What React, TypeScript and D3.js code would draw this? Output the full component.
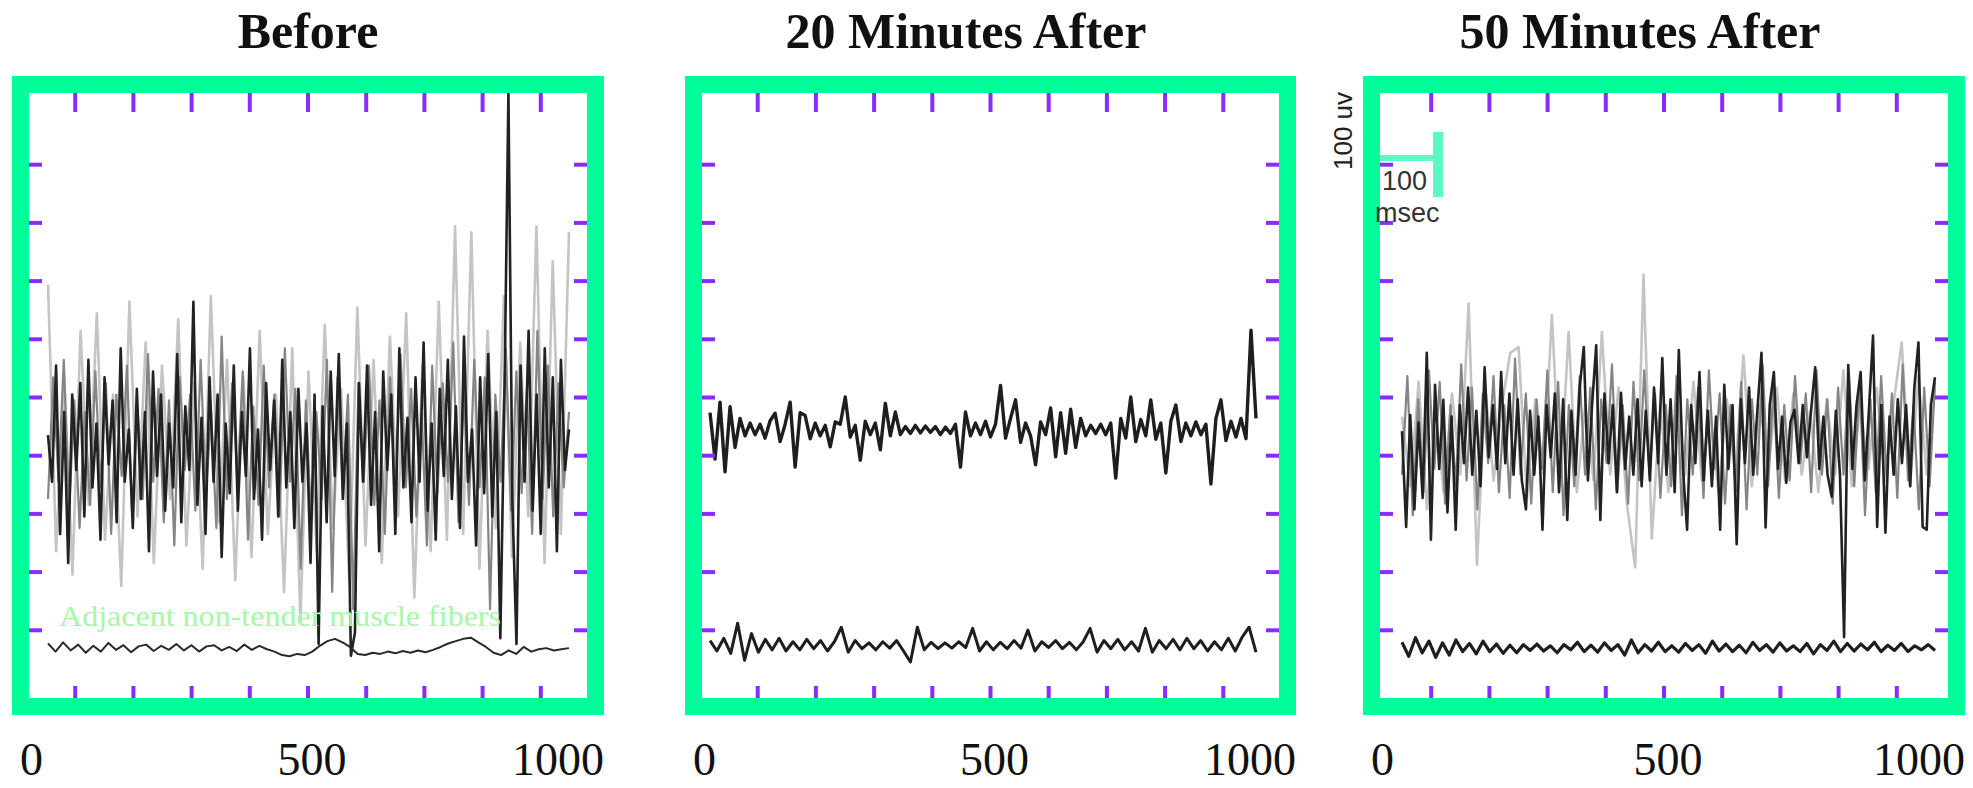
import { useEffect } from 'react';
import * as d3 from 'd3';

const W = 1973;
const H = 788;

const titles = ['Before', '20 Minutes After', '50 Minutes After'];
const xTickLabels = [0, 500, 1000];

// EMG traces, microvolts relative to each trace's baseline, evenly sampled over 0..1000 msec
const beforeDark = [
  20, -60, 140, -150, 60, -200, 90, -40, 110, -120,
  150, -70, 40, -160, 120, -30, 80, -130, 170, -60,
  30, -140, 100, -90, 60, -180, 130, -50, 90, -110,
  40, -70, 160, -130, 70, -40, 250, -100, 50, -150,
  120, -60, 90, -190, 40, -80, 140, -110, 60, -50,
  170, -90, 30, -160, 110, -40, 80, -120, 150, -70,
  60, -140, 100, -60, 40, -200, 90, -340, 70, -130,
  130, -50, 160, -90, 40, -360, -320, 110, -60, 140,
  -100, 60, -180, 130, -40, 90, -150, 170, -70, 50,
  -130, 120, -60, 180, -110, 40, -160, 100, -50, 150,
  -90, 70, -140, 190, -60, 30, -170, 120, -80, 160,
  -120, 60, -330, 80, 610, -100, -340, 140, -60, 200,
  -110, 90, -150, 170, -70, 120, -180, 150, -40, 30,
];
const beforeMid = [
  -90, 120, -60, 150, -110, 80, -140, 60, -100, 130,
  -70, 110, -150, 90, -50, 140, -120, 70, -90, 160,
  -60, 100, -130, 80, -170, 120, -40, 90, -110, 150,
  -80, 60, -140, 190, -90, 110, -60, 130, -160, 70,
  -100, 140, -70, 90, -120, 170, -60, 100, -210, 80,
  -130, 60, -90, 150, -250, 120, -70, 90, -280, 110,
  -60, 140, -100, 80, -150, 120, -90, 160, -70, 100,
  -120, 60, -170, 140, -80, 110, -60, 180, -130, 90,
  -100, 150, -70, 120, -280, 90, -60, 170, -110, 130,
  -80, 100, -150, 200, -90, 140, -120, 110, -70, 60,
];
const beforeGray = [
  280, -180, 120, -220, 200, -100, 230, -160, 90, -240,
  250, -120, 180, -200, 140, -90, 220, -170, 110, -210,
  260, -130, 150, -230, 120, -190, 200, -150, 90, -250,
  170, -300, 130, -180, 210, -140, 100, -230, 240, -170,
  150, -200, 190, -120, 230, -260, 140, -180, 250, -160,
  380, -150, 370, -210, 200, -140, 260, -190, 180, -120,
  380, -200, 320, -150, 370,
];
const beforeAdjacent = [
  8, -6, 10, -4, 6, -8, 4, -6, 9, -3,
  5, -7, 3, 6, -5, 4, -3, 7, -4, 5,
  -6, 3, 5, -4, 2, -5, 6, -3, 4, -2,
  -6, -12, -14, -10, -12, -6, 4, 12, 16, 10,
  2, -10, -12, -8, -10, -6, -9, -5, -8, -4,
  -7, -3, 2, 8, 12, 16, 18, 10, 2, -8,
  -12, -4, -10, 2, -6, -2, 0, -4, -2, 0,
];
const after20Top = [
  30, -50, 48, -72, 40, -30, 20, -10, 12, -8,
  10, -14, 16, 29, -20, 10, 48, -64, 30, 25,
  -15, 12, -10, 8, -29, 14, 10, 57, -12, 8,
  -52, 15, -8, 12, -34, 46, -10, 31, -8, 6,
  -6, 8, -5, 7, -4, 6, -8, 5, -6, 10,
  -64, 31, -10, 12, -8, 15, -12, 10, 77, -14,
  20, 52, -21, 12, -10, -60, 14, -8, 38, -46,
  30, -40, 36, -30, 20, -10, 8, -6, 10, -8,
  12, -83, 20, -14, 57, -20, 18, -10, 52, -16,
  12, -74, 15, 43, -20, 12, -10, 14, -8, 10,
  -93, 20, 52, -18, 15, -12, 20, -15, 172, 20,
];
const after20Bottom = [
  8, -10, 12, -14, 38, -26, 20, -12, 10, -8,
  12, -10, 6, -8, 10, -6, 8, -10, 6, 31,
  -12, 8, -6, 4, -8, 6, -5, 8, -10, -29,
  31, -8, 5, -6, 4, -5, 6, -4, 29, -10,
  6, -8, 5, -6, 8, -5, 26, -10, 6, -4,
  8, -6, 5, -8, 6, 29, -12, 8, -6, 10,
  -8, 6, -10, 29, -12, 8, -6, 10, -8, 12,
  -6, 8, -10, 6, -8, 12, -10, 14, 31, -12,
];
const after50Dark = [
  15, -150, 43, -120, 30, -100, 150, -172, 95, -50,
  69, -125, 40, -155, 60, -40, 90, -60, 50, -80,
  125, -30, 60, -50, 117, -40, 80, -60, 70, -70,
  -120, 50, -60, 40, -155, 60, -30, 80, -90, 70,
  -138, 50, -60, 90, 160, -70, 60, 163, -138, 80,
  -40, 60, -90, 81, -50, 40, -60, 70, -80, 50,
  -70, 90, -40, 141, -60, 70, -90, 155, -50, -155,
  60, -40, 117, -70, 50, -80, 40, -155, 95, -50,
  60, -180, 70, -40, 90, -60, 50, 150, -151, 60,
  117, -50, 40, -74, 30, 52, -40, 60, -30, 50,
  125, -50, 40, -60, -98, 50, -60, -340, 129, -50,
  60, 117, -70, 50, 180, -150, 60, -160, 40, -60,
  70, -40, 60, -80, 90, 168, -150, -155, 60, 108,
];
const after50Mid = [
  -60, 110, -130, 70, -90, 120, -50, 100, -110, 60,
  -80, 130, -70, 90, -120, 80, -40, 110, -90, 60,
  -100, 140, -60, 80, -110, 70, -50, 120, -90, 100,
  -130, 60, -80, 110, -60, 90, -120, 70, -40, 130,
  -90, 60, -110, 100, -70, 120, -60, 80, -100, 60,
  -80, 110, -130, 70, -60, 90, -100, 120, -50, 80,
  -110, 60, -90, 100, -120, 70, -60, 130, -80, 90,
  -100, 60, -70, 110, -40, 80, -90, 120, -60, 70,
  -110, 90, -60, 120, -80, 100, -130, 70, -90, 110,
  -60, 80, -100, 130, -70, 60, -120, 90, -80, 100,
];
const after50Gray = [
  40, -80, 100, -120, 60, -90, 80, -60, 235, -215,
  90, -70, 60, 150, 160, -100, 70, -60, 215, -80,
  186, -90, 60, -70, 186, -60, 90, -110, -220, 285,
  -170, 60, -90, 80, -60, 100, -70, 50, -90, 70,
  -60, 146, -80, 60, -50, 90, -70, 80, -60, 50,
  -90, 70, -60, 120, -80, 60, -50, 90, -70, 60,
  168, -80, 110, -60, 90,
];
const after50Bottom = [
  10, -14, 18, -8, 12, -16, 9, -12, 14, -6,
  8, -10, 12, -6, 7, -9, 5, -8, 6, -4,
  7, -5, 4, -8, 6, -3, 10, -6, 5, -7,
  9, -4, 6, -12, 14, -8, 6, -5, 10, -6,
  4, -7, 8, -4, 6, -9, 12, -5, 7, -6,
  5, -8, 10, -4, 6, -7, 9, -5, 4, -6,
  8, -10, 6, -4, 12, -6, 8, -5, 7, -3,
  10, -6, 5, -4, 8, -6, 4, -3, 6, -4,
];

const GREEN = '#00fd9a';
const TICK = '#8a2cff';
const FT = 17; // frame thickness
const TOP = 76;
const BOTTOM = 715;

type Series = { values: number[]; base: number; color: string; width: number };

const panels: {
  x0: number; x1: number; titleX: number; trace: [number, number]; series: Series[];
}[] = [
  {
    x0: 12, x1: 604, titleX: 308, trace: [48, 569],
    series: [
      { values: beforeGray, base: 433, color: '#c4c4c4', width: 2.6 },
      { values: beforeMid, base: 433, color: '#858585', width: 2.2 },
      { values: beforeDark, base: 433, color: '#222', width: 2.6 },
      { values: beforeAdjacent, base: 86, color: '#2a2a2a', width: 2 },
    ],
  },
  {
    x0: 685, x1: 1296, titleX: 966, trace: [710, 1256],
    series: [
      { values: after20Top, base: 462, color: '#1e1e1e', width: 3.4 },
      { values: after20Bottom, base: 91, color: '#1e1e1e', width: 3 },
    ],
  },
  {
    x0: 1363, x1: 1965, titleX: 1640, trace: [1402, 1935],
    series: [
      { values: after50Gray, base: 445, color: '#c4c4c4', width: 2.6 },
      { values: after50Mid, base: 445, color: '#858585', width: 2.2 },
      { values: after50Dark, base: 445, color: '#222', width: 2.6 },
      { values: after50Bottom, base: 86, color: '#1e1e1e', width: 3.2 },
    ],
  },
];

export default function App() {
  useEffect(() => {
    document.body.style.margin = '0';
  }, []);

  const inTop = TOP + FT;
  const inBottom = BOTTOM - FT;
  // microvolts, 0.58 px per uV
  const y = d3.scaleLinear().domain([0, 1043]).range([inBottom, 93]);
  const cy = (inTop + inBottom) / 2 + 2;
  const tickY = d3.scaleLinear().domain([-4, 4]).range([cy - 4 * 58.2, cy + 4 * 58.2]);
  const idx = d3.range(-4, 5);

  return (
    <svg width={W} height={H} style={{ display: 'block', background: '#fff' }}>
      {panels.map((p, pi) => {
        const inL = p.x0 + FT;
        const inR = p.x1 - FT;
        const cx = (inL + inR) / 2;
        const tickX = d3.scaleLinear().domain([-4, 4]).range([cx - 4 * 58.2, cx + 4 * 58.2]);
        const x = d3.scaleLinear().domain([0, 1000]).range(p.trace);
        const lab = d3.scaleLinear().domain([0, 1000]).range([p.x0 + 8, p.x1]);
        return (
          <g key={pi}>
            <text x={p.titleX} y={48} textAnchor="middle" fontFamily="'Liberation Serif', serif"
              fontWeight="bold" fontSize={50} fill="#111">{titles[pi]}</text>

            {p.series.map((s, si) => {
              const n = s.values.length;
              const line = d3.line<number>()
                .x((_, i) => x((i * 1000) / (n - 1)))
                .y(d => y(s.base + d));
              return (
                <path key={si} d={line(s.values) || ''} fill="none" stroke={s.color}
                  strokeWidth={s.width} strokeLinejoin="round" />
              );
            })}

            {idx.map(k => (
              <g key={k} stroke={TICK} strokeWidth={4}>
                <line x1={tickX(k)} x2={tickX(k)} y1={inTop} y2={inTop + 19} />
                <line x1={tickX(k)} x2={tickX(k)} y1={inBottom} y2={inBottom - 12} />
                <line x1={inL} x2={inL + 13} y1={tickY(k)} y2={tickY(k)} />
                <line x1={inR} x2={inR - 13} y1={tickY(k)} y2={tickY(k)} />
              </g>
            ))}

            <rect x={p.x0 + FT / 2} y={TOP + FT / 2} width={p.x1 - p.x0 - FT}
              height={BOTTOM - TOP - FT} fill="none" stroke={GREEN} strokeWidth={FT} />

            {xTickLabels.map((t, ti) => (
              <text key={t} x={ti === 1 ? (p.x0 + 8 + p.x1) / 2 : lab(t)} y={775}
                textAnchor={ti === 0 ? 'start' : ti === 1 ? 'middle' : 'end'}
                fontFamily="'Liberation Serif', serif" fontSize={46} fill="#111">{t}</text>
            ))}
          </g>
        );
      })}

      <text x={59} y={626} fontFamily="'Liberation Serif', serif" fontSize={30}
        fill="#a6f7a6" textLength={442} lengthAdjust="spacingAndGlyphs">
        Adjacent non-tender muscle fibers
      </text>

      {/* scale bar */}
      <rect x={1380} y={155} width={56} height={6} fill="#5ff7c6" />
      <rect x={1433} y={132} width={10} height={65} fill="#5ff7c6" />
      <text x={1382} y={190} fontFamily="'Liberation Sans', sans-serif" fontSize={27} fill="#333">100</text>
      <text x={1375} y={222} fontFamily="'Liberation Sans', sans-serif" fontSize={27} fill="#333">msec</text>
      <text transform="translate(1352,131) rotate(-90)" textAnchor="middle"
        fontFamily="'Liberation Sans', sans-serif" fontSize={26} fill="#222">100 uv</text>
    </svg>
  );
}
